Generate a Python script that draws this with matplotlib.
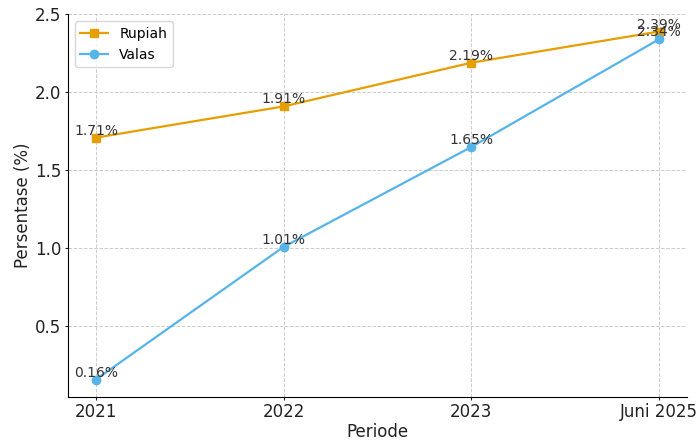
import matplotlib.pyplot as plt

periode = ['2021', '2022', '2023', 'Juni 2025']
rupiah = [1.71, 1.91, 2.19, 2.39]
valas = [0.16, 1.01, 1.65, 2.34]

plt.rcParams['font.family'] = ['DejaVu Sans']
fig, ax = plt.subplots(figsize=(6.99, 4.41), dpi=100)

ax.plot(periode, rupiah, marker='s', color='#E69F00', label='Rupiah', linewidth=1.6, markersize=6)
ax.plot(periode, valas, marker='o', color='#56B4E9', label='Valas', linewidth=1.6, markersize=6)

## label persen di atas titik
for i in range(len(periode)):
    ax.text(i, rupiah[i], f'{rupiah[i]:.2f}%', ha='center', va='bottom', fontsize=10, color='#333333')
    ax.text(i, valas[i], f'{valas[i]:.2f}%', ha='center', va='bottom', fontsize=10, color='#333333')

ax.set_xlabel('Periode', fontsize=12, color='#222222', labelpad=1.5)
ax.set_ylabel('Persentase (%)', fontsize=12, color='#222222', labelpad=2)
ax.tick_params(labelsize=12, colors='#222222', length=2.5, pad=2)
ax.grid(True, linestyle='--', color='#cccccc', linewidth=0.7)
ax.spines['top'].set_visible(False)
ax.spines['right'].set_visible(False)
ax.legend(loc='upper left', fontsize=10)

plt.subplots_adjust(left=0.097, right=0.983, top=0.968, bottom=0.1)
plt.savefig('out.png')
